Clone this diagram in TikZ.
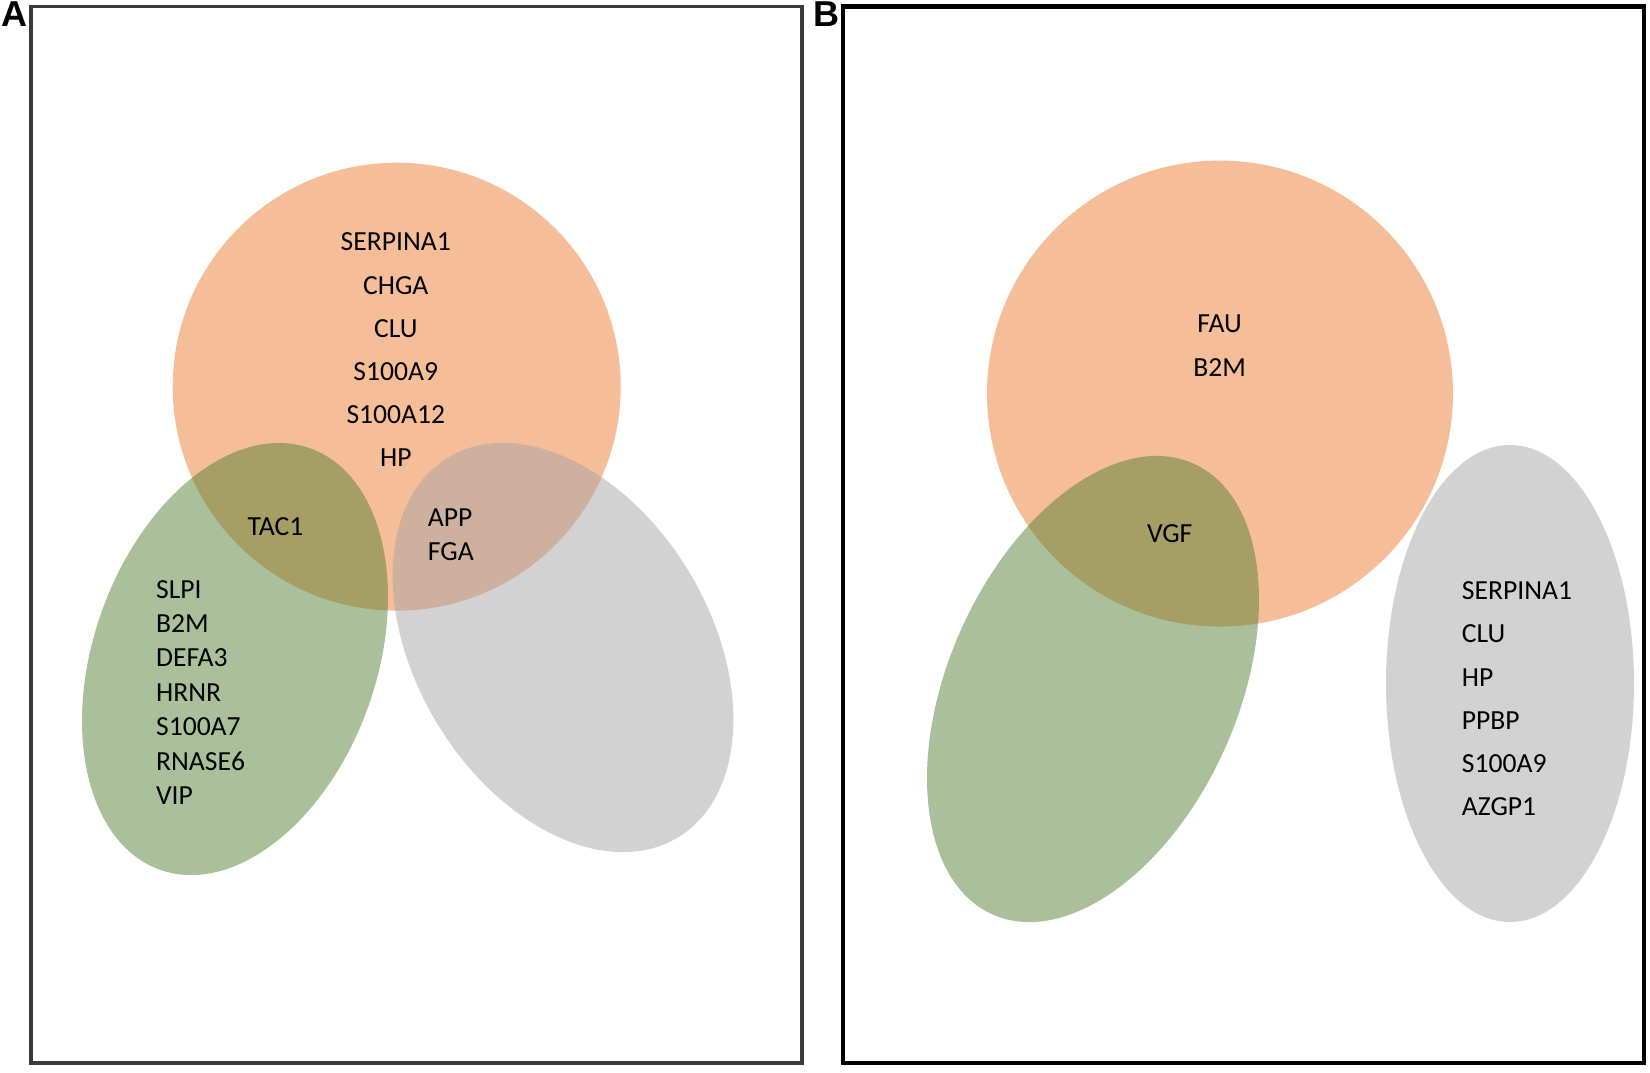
\documentclass[tikz,border=0pt]{standalone}
\usepackage{fontspec}
\setmainfont{Carlito}
\newfontfamily\panelfont{Liberation Sans}
\usetikzlibrary{positioning}
\definecolor{setorange}{HTML}{ED7D31}
\definecolor{setgreen}{HTML}{548235}
\definecolor{setgray}{HTML}{A5A5A5}
\definecolor{frameA}{HTML}{3A3A3A}
\tikzstyle{orangeset} = [fill=setorange, fill opacity=0.5]
\tikzstyle{greenset} = [fill=setgreen, fill opacity=0.5]
\tikzstyle{grayset} = [fill=setgray, fill opacity=0.5]
\tikzstyle{gene} = [inner sep=0pt, font=\fontsize{13.8}{21.6}\selectfont]
\tikzstyle{genetight} = [inner sep=0pt, font=\fontsize{13.8}{17.2}\selectfont]
\tikzstyle{panellabel} = [inner sep=0pt, font=\panelfont\bfseries\fontsize{18}{18}\selectfont]

\begin{document}
\begin{tikzpicture}[x=0.5pt,y=-0.5pt]
            \useasboundingbox (0,0) rectangle (1650,1072);

            \draw[frameA, line width=1.65pt] (31,6.7) rectangle (802,1063);
            \draw[black, line width=2.2pt] (842.7,6.5) rectangle (1643.8,1063);
            \node[panellabel] (labA) at (14.3,14) {A};
            \node[panellabel] (labB) at (826.3,14) {B};

            \fill[orangeset] (396.7,386.7) circle [radius=224];
            \fill[greenset, rotate around={-19.6:(235,659)}] (235,659) ellipse [x radius=141.5, y radius=223.7];
            \fill[grayset, rotate around={31.2:(563,647.5)}] (563,647.5) ellipse [x radius=147, y radius=222];

            \node[gene, align=center] (topA) at (395.8,350) {SERPINA1\\CHGA\\CLU\\S100A9\\S100A12\\HP};
            \node[gene] (tacA) at (275.5,526.5) {TAC1};
            \node[genetight, align=left, anchor=west] (appA) at (427.5,535) {APP\\FGA};
            \node[genetight, align=left, anchor=west] (leftA) at (155.7,692.4) {SLPI\\B2M\\DEFA3\\HRNR\\S100A7\\RNASE6\\VIP};

            \fill[orangeset] (1220,393.6) circle [radius=233];
            \fill[greenset, rotate around={-24:(1093,689)}] (1093,689) ellipse [x radius=144.7, y radius=246.8];
            \fill[grayset] (1510,683.5) ellipse [x radius=124, y radius=238.5];

            \node[gene, align=center] (topB) at (1219.6,345.7) {FAU\\B2M};
            \node[gene] (vgfB) at (1169.7,533.4) {VGF};
            \node[gene, align=left, anchor=west] (rightB) at (1461.5,698.8) {SERPINA1\\CLU\\HP\\PPBP\\S100A9\\AZGP1};
        \end{tikzpicture}
\end{document}
